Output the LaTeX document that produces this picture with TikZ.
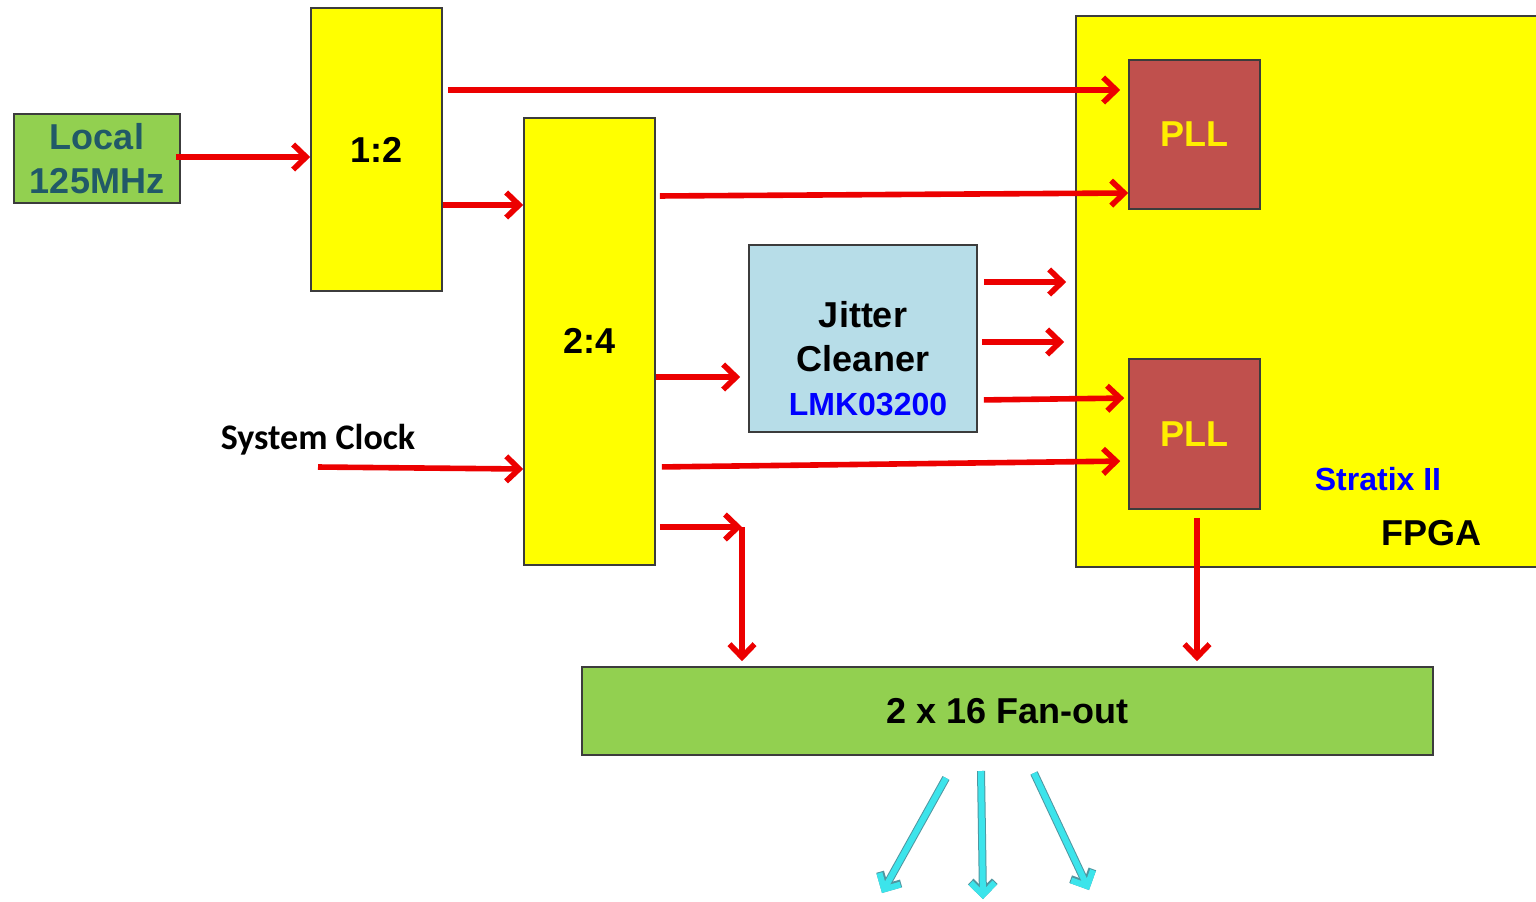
\documentclass[tikz,border=0pt]{standalone}
\usepackage{fontspec}
\setmainfont{Liberation Sans}
\newfontfamily\calibfont{Carlito}
\usetikzlibrary{arrows.meta,calc}
\definecolor{boxgreen}{RGB}{146,208,80}
\definecolor{fpgayellow}{RGB}{255,255,0}
\definecolor{jitblue}{RGB}{183,221,232}
\definecolor{pllred}{RGB}{192,80,77}
\definecolor{plltext}{RGB}{255,238,0}
\definecolor{tealtext}{RGB}{33,89,104}
\definecolor{sigred}{RGB}{236,0,0}
\definecolor{cyanfill}{RGB}{60,228,235}
\definecolor{cyanedge}{RGB}{80,150,160}
\definecolor{edgegray}{RGB}{60,60,60}
\definecolor{textblue}{RGB}{0,0,255}
\begin{document}
\begin{tikzpicture}[x=0.5pt,y=-0.5pt,
  box/.style={draw=edgegray, line width=0.8pt, inner sep=0pt, align=center,
    font=\fontsize{18}{22}\selectfont\bfseries},
  lbl/.style={inner sep=0pt, align=center, font=\fontsize{18}{22}\selectfont\bfseries},
  sig/.style={draw=sigred, line width=2.8pt, -{Straight Barb[length=6.5pt,width=12.5pt]}},
  cyanout/.style={draw=cyanedge, line width=4pt, -{Straight Barb[length=6pt,width=12pt]}},
  cyanin/.style={draw=cyanfill, line width=3pt, -{Straight Barb[length=6pt,width=12pt]}}]
\useasboundingbox (0,0) rectangle (1536,901);
\clip (0,0) rectangle (1536,901);

% boxes
\node[box, fill=fpgayellow, minimum width=235pt, minimum height=275.5pt] (fpga) at (1311,291.5) {};
\node[box, fill=boxgreen, text=tealtext, minimum width=83pt, minimum height=44.5pt] (local) at (97,158.5) {Local\\125MHz};
\node[box, fill=fpgayellow, minimum width=65.5pt, minimum height=141.5pt] (l12) at (376.5,149.5) {1:2};
\node[box, fill=fpgayellow, minimum width=65.5pt, minimum height=223.5pt] (l24) at (589.5,341.5) {\raisebox{1pt}{2:4}};
\node[box, fill=jitblue, minimum width=114pt, minimum height=93.5pt] (jit) at (863,338.5) {};
\node[lbl] (jitlbl) at (863,359) {Jitter\\Cleaner\\\hspace*{5pt}{\color{textblue}\fontsize{16}{20}\selectfont LMK03200}};
\node[box, fill=pllred, text=plltext, minimum width=65.5pt, minimum height=74.5pt] (pll1) at (1194.5,134.5) {PLL};
\node[box, fill=pllred, text=plltext, minimum width=65.5pt, minimum height=75pt] (pll2) at (1194.5,434) {PLL};
\node[box, fill=boxgreen, minimum width=425.5pt, minimum height=44pt] (fan) at (1007.5,711) {2 x 16 Fan-out};
\node[lbl, anchor=base, text=textblue, font=\fontsize{16}{20}\selectfont\bfseries] (strat) at (1378,490) {Stratix II};
\node[lbl, anchor=base] (fpgalbl) at (1431,545) {FPGA};
\node[inner sep=0pt, anchor=base, font=\calibfont\fontsize{18}{22}\selectfont\bfseries] (sys) at (318,449) {System Clock};

% helper levels
\coordinate (y90) at (0,90);
\coordinate (y193) at (0,193);
\coordinate (y196) at (0,196);
\coordinate (y205) at (0,205);
\coordinate (y282) at (0,282);
\coordinate (y342) at (0,342);
\coordinate (y377) at (0,377);
\coordinate (y398) at (0,398);
\coordinate (y400) at (0,400);
\coordinate (y461) at (0,461);
\coordinate (y467) at (0,467);
\coordinate (y469) at (0,469);
\coordinate (bend) at (742,527);

% red signals
\draw[sig, shorten <=-2.5pt] (local.east |- 0,157) -- (l12.west |- 0,157);
\draw[sig, shorten <=2.5pt, shorten >=4pt] (l12.east |- y90) -- (pll1.west |- y90);
\draw[sig] (l12.east |- y205) -- (l24.west |- y205);
\draw[sig, shorten <=2pt] (l24.east |- y196) -- (pll1.west |- y193);
\draw[sig, shorten >=4pt] (l24.east |- y377) -- (jit.west |- y377);
\draw[sig, shorten <=3pt, shorten >=4.5pt] (jit.east |- y282) -- (fpga.west |- y282);
\draw[sig, shorten <=2pt, shorten >=5.5pt] (jit.east |- y342) -- (fpga.west |- y342);
\draw[sig, shorten <=3pt, shorten >=2pt] (jit.east |- y400) -- (pll2.west |- y398);
\draw[sig] (sys.south |- y467) -- (l24.west |- y469);
\draw[sig, shorten <=3pt, shorten >=4pt] (l24.east |- y467) -- (pll2.west |- y461);
\draw[sig, shorten <=2pt] (l24.east |- bend) -- (bend);
\draw[sig, shorten >=2.5pt] (bend) -- (bend |- fan.north);
\draw[sig, shorten <=4pt, shorten >=2.5pt] ([xshift=1.25pt]pll2.south) -- ([xshift=1.25pt]pll2.south |- fan.north);

% cyan outputs
\coordinate (c1s) at (946,778); \coordinate (c1e) at (882,893);
\coordinate (c2s) at (981,771); \coordinate (c2e) at (983,899);
\coordinate (c3s) at (1034,773); \coordinate (c3e) at (1089,890);
\foreach \s/\e in {c1s/c1e, c2s/c2e, c3s/c3e} {
  \draw[cyanout] (\s) -- (\e);
  \draw[cyanin] (\s) -- (\e);
}
\end{tikzpicture}
\end{document}
